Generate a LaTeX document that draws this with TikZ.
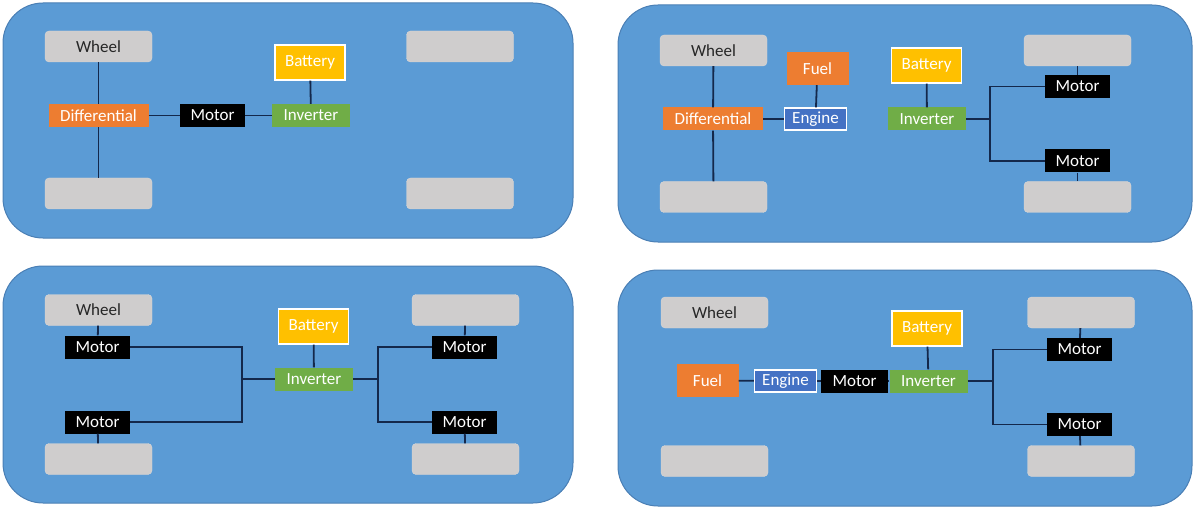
\documentclass[tikz,border=0pt]{standalone}
\usepackage{fontspec}
\setmainfont{Carlito}
\definecolor{panelblue}{HTML}{5B9BD5}
\definecolor{paneledge}{HTML}{4A7FB5}
\definecolor{wheelgray}{HTML}{CFCDCD}
\definecolor{boxorange}{HTML}{ED7D31}
\definecolor{boxgreen}{HTML}{70AD47}
\definecolor{boxyellow}{HTML}{FFC000}
\definecolor{boxblue}{HTML}{4472C4}
\definecolor{linknavy}{HTML}{14284B}
\begin{document}
\begin{tikzpicture}[x=1pt,y=-1pt,
  every node/.style={font=\fontsize{17}{19}\selectfont,inner sep=0pt,align=center},
  panel/.style={fill=panelblue,draw=paneledge,line width=1pt,rounded corners=40pt},
  wheel/.style={fill=wheelgray,draw=wheelgray!80!white,rounded corners=4pt,minimum width=107pt,minimum height=31pt,text=black!85},
  diff/.style={fill=boxorange,text=white,minimum width=100pt,minimum height=23pt},
  motor/.style={fill=black,text=white,minimum width=65pt,minimum height=23pt},
  inverter/.style={fill=boxgreen,text=white,minimum width=78pt,minimum height=23pt},
  battery/.style={fill=boxyellow,draw=white,line width=1.2pt,text=white,minimum width=70pt,minimum height=35pt},
  fuel/.style={fill=boxorange,text=white,minimum width=62pt,minimum height=33pt},
  engine/.style={fill=boxblue,draw=white,line width=1.2pt,text=white,minimum width=62pt,minimum height=22pt},
  link/.style={draw=linknavy,line width=1.8pt}]
\useasboundingbox (0,0) rectangle (1195,508);

% panels
\draw[panel] (3,3) rectangle (573,238);
\draw[panel] (618,5) rectangle (1192,242);
\draw[panel] (3,266) rectangle (573,503);
\draw[panel] (618,270) rectangle (1192,506);

% top left: electric, one motor
\node[wheel] (w1a) at (98.5,46.5) {Wheel};
\node[wheel] (w1b) at (98.5,193.5) {};
\node[wheel] (w1c) at (460,46.5) {};
\node[wheel] (w1d) at (460,193.5) {};
\node[diff] (d1) at (98.5,115.5) {Differential};
\node[motor] (m1) at (212.5,115.5) {Motor};
\node[inverter] (i1) at (311,115.5) {Inverter};
\node[battery] (b1) at (310,62.5) {Battery};
\draw[link] (w1a) -- (d1);
\draw[link] (d1) -- (w1b);
\draw[link] (d1) -- (m1);
\draw[link] (m1) -- (i1);
\draw[link] (b1) -- (i1);

% top right: engine front, motors rear
\node[wheel] (w2a) at (713.5,50.5) {Wheel};
\node[wheel] (w2b) at (713.5,197) {};
\node[wheel] (w2c) at (1077.5,50.5) {};
\node[wheel] (w2d) at (1077.5,197) {};
\node[fuel] (f2) at (817.5,68.5) {Fuel};
\node[diff] (d2) at (713,119) {Differential};
\node[engine] (e2) at (815.5,119) {Engine};
\node[battery] (b2) at (926.5,65.5) {Battery};
\node[inverter] (i2) at (927,119) {Inverter};
\node[motor] (m2a) at (1077.5,86.5) {Motor};
\node[motor] (m2b) at (1077.5,161) {Motor};
\coordinate (j2) at (990,119);
\draw[link] (w2a) -- (d2);
\draw[link] (d2) -- (w2b);
\draw[link] (d2) -- (e2);
\draw[link] (f2) -- (e2);
\draw[link] (b2) -- (i2);
\draw[link] (i2) -- (j2);
\draw[link] (j2) |- (m2a);
\draw[link] (j2) |- (m2b);
\draw[link] (w2c) -- (m2a);
\draw[link] (m2b) -- (w2d);

% bottom left: four motors
\node[wheel] (w3a) at (98.5,310) {Wheel};
\node[wheel] (w3b) at (98.5,459) {};
\node[wheel] (w3c) at (465.5,310) {};
\node[wheel] (w3d) at (465.5,459) {};
\node[motor] (m3a) at (97.5,347) {Motor};
\node[motor] (m3b) at (97.5,422) {Motor};
\node[battery] (b3) at (313.5,326.5) {Battery};
\node[inverter] (i3) at (314,379) {Inverter};
\node[motor] (m3c) at (464.5,347) {Motor};
\node[motor] (m3d) at (464.5,422) {Motor};
\coordinate (j3a) at (242,379);
\coordinate (j3b) at (378,379);
\draw[link] (w3a) -- (m3a);
\draw[link] (m3b) -- (w3b);
\draw[link] (w3c) -- (m3c);
\draw[link] (m3d) -- (w3d);
\draw[link] (b3) -- (i3);
\draw[link] (i3) -- (j3a);
\draw[link] (j3a) |- (m3a);
\draw[link] (j3a) |- (m3b);
\draw[link] (i3) -- (j3b);
\draw[link] (j3b) |- (m3c);
\draw[link] (j3b) |- (m3d);

% bottom right: series hybrid
\node[wheel] (w4a) at (714.5,312.5) {Wheel};
\node[wheel] (w4b) at (714.5,461) {};
\node[wheel] (w4c) at (1081,312.5) {};
\node[wheel] (w4d) at (1081,461) {};
\node[fuel] (f4) at (707.5,380.5) {Fuel};
\node[engine] (e4) at (785.5,381) {Engine};
\node[motor,minimum width=67pt] (m4) at (854.5,381) {Motor};
\node[inverter] (i4) at (928.5,381) {Inverter};
\node[battery] (b4) at (927,328.5) {Battery};
\node[motor] (m4a) at (1079.5,349.5) {Motor};
\node[motor] (m4b) at (1079.5,424.5) {Motor};
\coordinate (j4) at (993,381);
\draw[link] (f4) -- (e4);
\draw[link] (e4) -- (m4);
\draw[link] (m4) -- (i4);
\draw[link] (b4) -- (i4);
\draw[link] (i4) -- (j4);
\draw[link] (j4) |- (m4a);
\draw[link] (j4) |- (m4b);
\draw[link] (w4c) -- (m4a);
\draw[link] (m4b) -- (w4d);
\end{tikzpicture}
\end{document}
